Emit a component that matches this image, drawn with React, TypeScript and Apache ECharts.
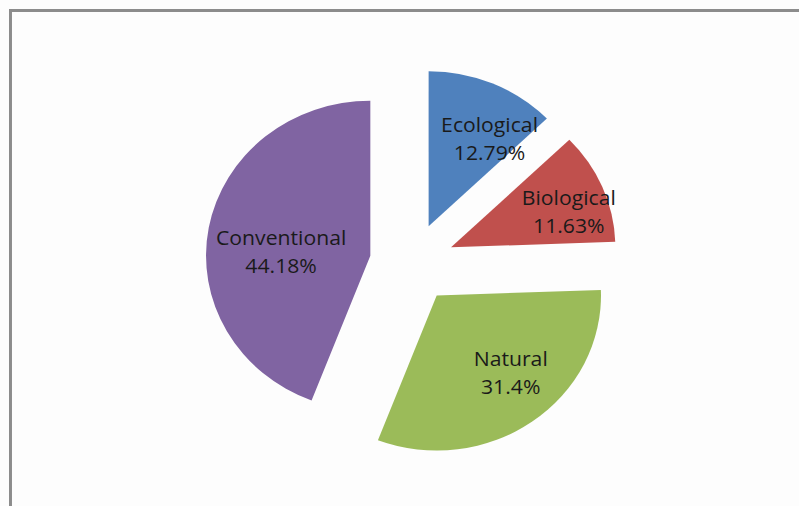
import React, { useEffect, useRef } from "react";
import * as echarts from "echarts";

const categories = ["Ecological", "Biological", "Natural", "Conventional"];
const shares = [12.79, 11.63, 31.4, 44.18];
const colors = ["#4F81BD", "#C0504D", "#9BBB59", "#8064A2"];
// label nudges (px) relative to ECharts' default inside position
const labelShift: [number, number][] = [
  [26, -14],
  [37, -5],
  [23, 11],
  [-5, 10],
];

// the reference picture is stretched horizontally
const STRETCH = 1.06;
const W = 799;
const H = 506;

export default function App() {
  const ref = useRef<HTMLDivElement>(null);
  useEffect(() => {
    document.body.style.margin = "0";
    const chart = echarts.init(ref.current!, null, { renderer: "svg" });
    const innerW = W / STRETCH;
    chart.setOption({
      animation: false,
      backgroundColor: "#fdfdfd",
      graphic: [
        {
          type: "line",
          shape: { x1: 8.5, y1: 10.5, x2: innerW, y2: 10.5 },
          style: { stroke: "#8c8c8c", lineWidth: 3 },
        },
        {
          type: "line",
          shape: { x1: 9.9, y1: 9, x2: 9.9, y2: H },
          style: { stroke: "#8c8c8c", lineWidth: 2.8 },
        },
      ],
      series: [
        {
          type: "pie",
          center: [388.7, 263],
          radius: 155,
          startAngle: 90,
          clockwise: true,
          selectedMode: "multiple",
          selectedOffset: 40,
          select: { itemStyle: { borderWidth: 0 } },
          emphasis: { disabled: true },
          labelLine: { show: false },
          label: {
            show: true,
            position: "inside",
            color: "#1a1a1a",
            fontFamily: "Open Sans",
            fontSize: 20,
            lineHeight: 28,
            align: "center",
            formatter: (p: any) => `${p.name}\n${p.value}%`,
          },
          labelLayout: (p: any) => ({
            dx: labelShift[p.dataIndex][0],
            dy: labelShift[p.dataIndex][1],
          }),
          data: categories.map((c, i) => ({
            name: c,
            value: shares[i],
            selected: true,
            itemStyle: { color: colors[i] },
          })),
        },
      ],
    });
    return () => chart.dispose();
  }, []);
  return (
    <div style={{ width: W, height: H, overflow: "hidden", background: "#fdfdfd" }}>
      <div
        ref={ref}
        style={{
          width: W / STRETCH,
          height: H,
          transform: `scaleX(${STRETCH})`,
          transformOrigin: "0 0",
        }}
      />
    </div>
  );
}
